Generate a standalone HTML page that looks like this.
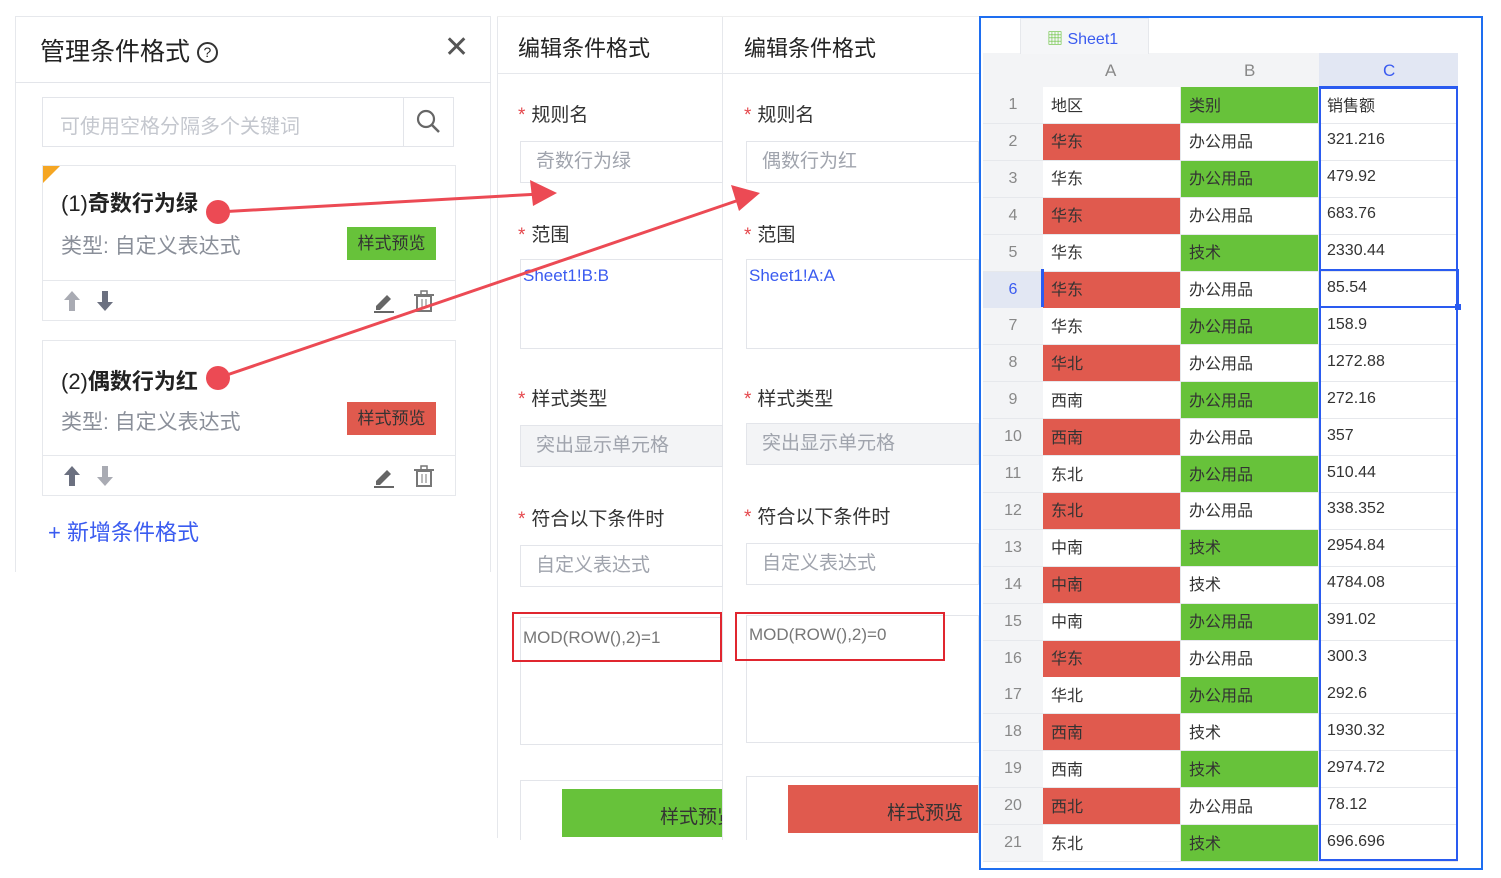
<!DOCTYPE html>
<html><head><meta charset="utf-8"><style>
*{margin:0;padding:0;box-sizing:border-box}
body{width:1501px;height:878px;background:#fff;position:relative;overflow:hidden;font-family:"Liberation Sans","Noto Sans CJK SC",sans-serif;color:#333}
.a{position:absolute}
.t{position:absolute;white-space:nowrap}
.lab{font-size:19px;color:#333}
.lab b{color:#e5484d;font-weight:normal;margin-right:6px}
.inp{position:absolute;border:1px solid #e3e5ea;background:#fff;color:#a0a4ad;font-size:19px;padding-left:15px}
.cell{position:absolute;font-size:16px;color:#333;padding-left:8px;padding-bottom:3px;border-right:1px solid #e6e8ec;border-bottom:1px solid #e6e8ec;display:flex;align-items:center}
.rh{position:absolute;font-size:16px;color:#888;display:flex;align-items:center;justify-content:center;background:#f3f4f6;border-bottom:1px solid #e6e8ec}
</style></head><body>
<div class="a" style="left:15px;top:16px;width:476px;height:556px;border:1px solid #e6e8ec;border-bottom:none"></div>
<div class="a" style="left:15px;top:82px;width:476px;height:1px;background:#e3e5ea"></div>
<div class="t" style="left:40px;top:32px;font-size:25px;color:#222">管理条件格式 <span style="display:inline-block;width:21px;height:21px;border:2px solid #333;border-radius:50%;font-size:14px;text-align:center;line-height:17px;vertical-align:3px">?</span></div>
<div class="t" style="left:444px;top:30px;font-size:30px;color:#555">✕</div>
<div class="a" style="left:42px;top:97px;width:412px;height:50px;border:1px solid #e3e5ea"></div>
<div class="a" style="left:403px;top:97px;width:1px;height:50px;background:#e3e5ea"></div>
<div class="t" style="left:60px;top:110px;font-size:20px;color:#c4c7ce">可使用空格分隔多个关键词</div>
<svg class="a" style="left:415px;top:108px" width="28" height="28"><circle cx="11" cy="11" r="8" stroke="#666" stroke-width="2.2" fill="none"/><line x1="17" y1="17" x2="24" y2="24" stroke="#666" stroke-width="2.5"/></svg>
<div class="a" style="left:42px;top:165px;width:414px;height:156px;border:1px solid #e6e8ec"></div>
<div class="a" style="left:42px;top:280px;width:414px;height:1px;background:#e6e8ec"></div>
<svg class="a" style="left:43px;top:166px" width="18" height="18"><polygon points="0,0 17,0 0,17" fill="#f5a623"/></svg>
<div class="t" style="left:61px;top:186px;font-size:22px;color:#222">(1)<b>奇数行为绿</b></div>
<div class="t" style="left:61px;top:230px;font-size:21px;color:#8a8f99">类型: 自定义表达式</div>
<div class="t" style="left:347px;top:227px;width:89px;height:33px;background:#67c23a;font-size:17px;color:#333;text-align:center;line-height:33px">样式预览</div>
<svg class="a" style="left:62px;top:289px" width="60" height="24"><path d="M10 2 L18 11 H13 V22 H7 V11 H2Z" fill="#a9abb3"/><path d="M43 22 L51 13 H46 V2 H40 V13 H35Z" fill="#6b7080"/></svg>
<svg class="a" style="left:372px;top:288px" width="66" height="26"><path d="M4 18 L15 7 L19 11 L8 22 H4Z" fill="#666"/><line x1="2" y1="24" x2="22" y2="24" stroke="#666" stroke-width="2"/><rect x="45" y="8" width="14" height="15" fill="none" stroke="#777" stroke-width="2"/><line x1="42" y1="7" x2="62" y2="7" stroke="#777" stroke-width="2"/><rect x="49" y="3" width="6" height="4" fill="none" stroke="#777" stroke-width="1.5"/><line x1="50" y1="11" x2="50" y2="20" stroke="#777"/><line x1="54" y1="11" x2="54" y2="20" stroke="#777"/></svg>
<div class="a" style="left:42px;top:340px;width:414px;height:156px;border:1px solid #e6e8ec"></div>
<div class="a" style="left:42px;top:455px;width:414px;height:1px;background:#e6e8ec"></div>
<div class="t" style="left:61px;top:364px;font-size:22px;color:#222">(2)<b>偶数行为红</b></div>
<div class="t" style="left:61px;top:406px;font-size:21px;color:#8a8f99">类型: 自定义表达式</div>
<div class="t" style="left:347px;top:402px;width:89px;height:33px;background:#e05a4e;font-size:17px;color:#333;text-align:center;line-height:33px">样式预览</div>
<svg class="a" style="left:62px;top:464px" width="60" height="24"><path d="M10 2 L18 11 H13 V22 H7 V11 H2Z" fill="#6b7080"/><path d="M43 22 L51 13 H46 V2 H40 V13 H35Z" fill="#a9abb3"/></svg>
<svg class="a" style="left:372px;top:463px" width="66" height="26"><path d="M4 18 L15 7 L19 11 L8 22 H4Z" fill="#666"/><line x1="2" y1="24" x2="22" y2="24" stroke="#666" stroke-width="2"/><rect x="45" y="8" width="14" height="15" fill="none" stroke="#777" stroke-width="2"/><line x1="42" y1="7" x2="62" y2="7" stroke="#777" stroke-width="2"/><rect x="49" y="3" width="6" height="4" fill="none" stroke="#777" stroke-width="1.5"/><line x1="50" y1="11" x2="50" y2="20" stroke="#777"/><line x1="54" y1="11" x2="54" y2="20" stroke="#777"/></svg>
<div class="t" style="left:48px;top:515px;font-size:22px;color:#3a5bf0">+ 新增条件格式</div>

<div class="a" style="left:497px;top:16px;width:482px;height:822px;border-left:1px solid #e6e8ec"></div>
<div class="a" style="left:722px;top:16px;width:1px;height:822px;background:#e6e8ec"></div>
<div class="a" style="left:497px;top:16px;width:482px;height:1px;background:#eee"></div>
<div class="a" style="left:497px;top:73px;width:482px;height:1px;background:#e6e8ec"></div>
<div class="t" style="left:518px;top:31px;font-size:22px;color:#222">编辑条件格式</div>
<div class="t" style="left:744px;top:31px;font-size:22px;color:#222">编辑条件格式</div>

<div class="t lab" style="left:518px;top:100px"><b>*</b>规则名</div>
<div class="t lab" style="left:744px;top:100px"><b>*</b>规则名</div>
<div class="inp" style="left:520px;top:141px;width:203px;height:42px;line-height:40px">奇数行为绿</div>
<div class="inp" style="left:746px;top:141px;width:233px;height:42px;line-height:40px">偶数行为红</div>
<div class="t lab" style="left:518px;top:220px"><b>*</b>范围</div>
<div class="t lab" style="left:744px;top:220px"><b>*</b>范围</div>
<div class="inp" style="left:520px;top:259px;width:203px;height:90px;color:#3a5bf0;font-size:17px;padding:6px 2px">Sheet1!B:B</div>
<div class="inp" style="left:746px;top:259px;width:233px;height:90px;color:#3a5bf0;font-size:17px;padding:6px 2px">Sheet1!A:A</div>
<div class="t lab" style="left:518px;top:384px"><b>*</b>样式类型</div>
<div class="t lab" style="left:744px;top:384px"><b>*</b>样式类型</div>
<div class="inp" style="left:520px;top:425px;width:203px;height:42px;line-height:40px;background:#f3f4f6">突出显示单元格</div>
<div class="inp" style="left:746px;top:423px;width:233px;height:42px;line-height:40px;background:#f3f4f6">突出显示单元格</div>
<div class="t lab" style="left:518px;top:504px"><b>*</b>符合以下条件时</div>
<div class="t lab" style="left:744px;top:502px"><b>*</b>符合以下条件时</div>
<div class="inp" style="left:520px;top:545px;width:203px;height:42px;line-height:40px">自定义表达式</div>
<div class="inp" style="left:746px;top:543px;width:233px;height:42px;line-height:40px">自定义表达式</div>
<div class="inp" style="left:520px;top:617px;width:203px;height:128px"></div>
<div class="inp" style="left:746px;top:615px;width:233px;height:128px"></div>
<div class="a" style="left:512px;top:612px;width:210px;height:50px;border:2px solid #e0262f"></div>
<div class="a" style="left:735px;top:612px;width:210px;height:49px;border:2px solid #e0262f"></div>
<div class="t" style="left:523px;top:628px;font-size:17px;color:#777">MOD(ROW(),2)=1</div>
<div class="t" style="left:749px;top:625px;font-size:17px;color:#777">MOD(ROW(),2)=0</div>
<div class="a" style="left:520px;top:780px;width:203px;height:60px;border:1px solid #e3e5ea;border-bottom:none"></div>
<div class="a" style="left:746px;top:776px;width:233px;height:64px;border:1px solid #e3e5ea;border-bottom:none"></div>
<div class="a" style="left:562px;top:789px;width:160px;height:48px;background:#67c23a;overflow:hidden"><div class="t" style="left:98px;top:13px;font-size:19px;color:#333">样式预览</div></div>
<div class="a" style="left:788px;top:785px;width:190px;height:48px;background:#e05a4e"><div class="t" style="left:99px;top:13px;font-size:19px;color:#333">样式预览</div></div>

<div class="a" style="left:979px;top:16px;width:504px;height:854px;border:2px solid #1e6ef0;background:#fff"></div>
<div class="a" style="left:983px;top:53px;width:474px;height:34px;background:#f3f4f6"></div>
<div class="a" style="left:1020px;top:18px;width:129px;height:36px;background:#f5f6f8;border:1px solid #e6e8ec;border-bottom:none"></div>
<div class="t" style="left:1047px;top:25px;font-size:16px;color:#3a5bf0"><span style="color:#67c23a">▦</span> Sheet1</div>
<div class="t" style="left:1105px;top:61px;font-size:17px;color:#888">A</div>
<div class="t" style="left:1244px;top:61px;font-size:17px;color:#888">B</div>
<div class="a" style="left:1319px;top:53px;width:139px;height:34px;background:#e2e7f3"></div>
<div class="t" style="left:1383px;top:61px;font-size:17px;color:#3a5bf0">C</div>
<div id="g"></div>
<div class="a" style="left:1319px;top:86px;width:139px;height:775px;border:2px solid #2a5bf0;border-top-width:3px"></div>
<div class="a" style="left:1319px;top:269px;width:140px;height:39px;border:2px solid #2a5bf0"></div>
<div class="a" style="left:1455px;top:304px;width:6px;height:6px;background:#2a5bf0"></div>
<div class="a" style="left:1041px;top:269px;width:3px;height:38px;background:#2a5bf0"></div>

<svg class="a" style="left:0;top:0" width="1501" height="878">
<line x1="218" y1="212" x2="540" y2="194" stroke="#ec4a54" stroke-width="3"/>
<polygon points="557,193 530,180 533,206" fill="#ec4a54"/>
<line x1="218" y1="378" x2="742" y2="199" stroke="#ec4a54" stroke-width="3"/>
<polygon points="760,193 731,185 739,211" fill="#ec4a54"/>
<circle cx="218" cy="212" r="12" fill="#ec4a54"/>
<circle cx="218" cy="378" r="12" fill="#ec4a54"/>
</svg>
<script>
var d=[["地区","类别","销售额"],["华东","办公用品","321.216"],["华东","办公用品","479.92"],["华东","办公用品","683.76"],["华东","技术","2330.44"],["华东","办公用品","85.54"],["华东","办公用品","158.9"],["华北","办公用品","1272.88"],["西南","办公用品","272.16"],["西南","办公用品","357"],["东北","办公用品","510.44"],["东北","办公用品","338.352"],["中南","技术","2954.84"],["中南","技术","4784.08"],["中南","办公用品","391.02"],["华东","办公用品","300.3"],["华北","办公用品","292.6"],["西南","技术","1930.32"],["西南","技术","2974.72"],["西北","办公用品","78.12"],["东北","技术","696.696"]];
var h="",xs=[1043,1181,1319],ws=[138,138,139];
for(var i=0;i<21;i++){var y=87+i*36.9,r=i+1;
h+='<div class="rh" style="left:983px;top:'+y+'px;width:60px;height:37px;'+(r==6?'background:#e2e7f3;color:#3a5bf0':'')+'">'+r+'</div>';
for(var j=0;j<3;j++){var bg='#fff';if(j==0&&r%2==0)bg='#e05a4e';if(j==1&&r%2==1)bg='#67c23a';
h+='<div class="cell" style="left:'+xs[j]+'px;top:'+y+'px;width:'+ws[j]+'px;height:37px;background:'+bg+'">'+d[i][j]+'</div>';}}
document.getElementById("g").innerHTML=h;
</script>
</body></html>
